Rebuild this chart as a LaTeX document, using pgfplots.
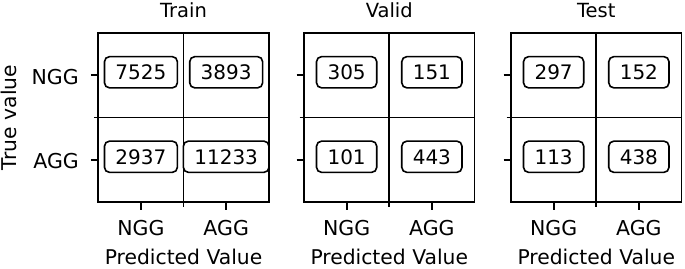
\documentclass[border=0pt]{standalone}
\usepackage{pgfplots}
\pgfplotsset{compat=1.18}
\usepackage{pgfplotstable}
\usepackage{fontspec}
\setmainfont{DejaVu Sans}

\pgfplotstableread{
x y v
0 0 7525
1 0 3893
0 1 2937
1 1 11233
}\traintab
\pgfplotstableread{
x y v
0 0 305
1 0 151
0 1 101
1 1 443
}\validtab
\pgfplotstableread{
x y v
0 0 297
1 0 152
0 1 113
1 1 438
}\testtab

\pgfplotsset{cm/.style={
  scale only axis, width=170.5pt, height=169pt,
  anchor=south west,
  xmin=-0.5, xmax=1.5, ymin=-0.5, ymax=1.5, y dir=reverse,
  axis line style={line width=1.8pt},
  every tick/.style={black, line width=1.8pt},
  every minor tick/.style={black, line width=1.8pt},
  tick align=outside, tick pos=left,
  major tick length=7.5pt, minor tick length=4.5pt,
  xtick={0,1}, ytick={0,1}, minor xtick={0.5}, minor ytick={0.5},
  xminorgrids, yminorgrids,
  grid style={black, line width=1.8pt},
  minor grid style={black, line width=1.8pt},
  xticklabels={NGG,AGG},
  ticklabel style={font=\fontsize{20.5}{23}\selectfont},
  xticklabel style={anchor=base, yshift=-26.2pt},
  yticklabel style={anchor=east, xshift=-8.5pt, yshift=-1.5pt},
  title style={at={(axis description cs:0.5,1.0575)}, anchor=base, font=\fontsize{19.5}{22}\selectfont},
  xlabel={Predicted Value},
  xlabel style={at={(axis description cs:0.5,-0.367)}, anchor=base, font=\fontsize{20.3}{23}\selectfont},
  clip=false,
}}
\pgfplotsset{cells/.style={draw=none, mark=none, nodes near coords, point meta=explicit symbolic,
  nodes near coords style={draw=black, line width=1.6pt, rounded corners=5pt, anchor=center,
  inner xsep=11pt, inner ysep=0pt, minimum height=31.2pt, yshift=1.5pt,
  font=\fontsize{20}{23}\selectfont, text=black}}}

\begin{document}
\begin{tikzpicture}
\useasboundingbox (0,0) rectangle (685pt,268pt);
\begin{axis}[cm, at={(98.3pt,66pt)}, title={Train},
  yticklabels={NGG,AGG}, ylabel={True value},
  ylabel style={at={(axis description cs:-0.477,0.5)}, anchor=base, font=\fontsize{20.3}{23}\selectfont}]
\addplot[cells] table[x=x, y=y, meta=v] {\traintab};
\end{axis}
\begin{axis}[cm, at={(304pt,66pt)}, title={Valid}, yticklabels={}]
\addplot[cells] table[x=x, y=y, meta=v] {\validtab};
\end{axis}
\begin{axis}[cm, at={(511pt,66pt)}, title={Test}, yticklabels={}]
\addplot[cells] table[x=x, y=y, meta=v] {\testtab};
\end{axis}
\end{tikzpicture}
\end{document}
